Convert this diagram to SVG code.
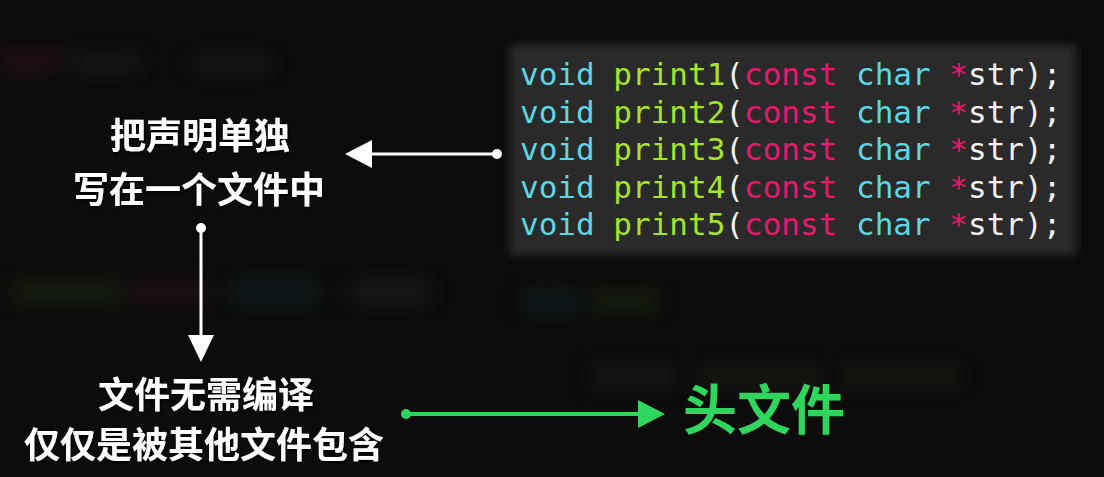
<svg xmlns="http://www.w3.org/2000/svg" width="1104" height="477" viewBox="0 0 1104 477">
  <defs>
    <style>
      .code { font-family: "DejaVu Sans Mono", "Liberation Mono", monospace; font-size: 31px; }
      .kw { fill: #5ed6e3; }
      .fn { fill: #a8e22c; }
      .ct { fill: #e6196c; }
      .pl { fill: #f2f2f2; }
      .cn { font-family: "Noto Sans CJK SC", sans-serif; font-weight: 700; font-size: 36px; fill: #ffffff; text-anchor: middle; }
      .hdr { font-family: "Noto Sans CJK SC", sans-serif; font-weight: 700; font-size: 54px; fill: #2ed65e; }
      .wl { stroke: #ffffff; stroke-width: 3; fill: none; }
      .gl { stroke: #2ed65e; stroke-width: 4; fill: none; }
    </style>
    <filter id="blur" x="-20%" y="-20%" width="140%" height="140%">
      <feGaussianBlur stdDeviation="10"/>
    </filter>
    <filter id="soft" x="-10%" y="-10%" width="120%" height="120%">
      <feGaussianBlur stdDeviation="4"/>
    </filter>
    <filter id="shadow" x="-10%" y="-20%" width="120%" height="140%">
      <feDropShadow dx="1" dy="2" stdDeviation="1" flood-color="#000" flood-opacity="0.8"/>
    </filter>
  </defs>

  <rect width="1104" height="477" fill="#0c0c0c"/>
  <g id="background-blur" filter="url(#blur)" opacity="0.35">
    <rect x="0" y="50" width="60" height="22" fill="#4a1422"/>
    <rect x="70" y="52" width="70" height="20" fill="#2a2a2a"/>
    <rect x="190" y="55" width="80" height="18" fill="#2a2a2a"/>
    <rect x="10" y="280" width="110" height="24" fill="#283a10"/>
    <rect x="130" y="280" width="80" height="24" fill="#3a1420"/>
    <rect x="230" y="280" width="90" height="24" fill="#123038"/>
    <rect x="350" y="280" width="80" height="24" fill="#2a2a2a"/>
    <rect x="520" y="290" width="60" height="22" fill="#123038"/>
    <rect x="590" y="290" width="70" height="22" fill="#283a10"/>
    <rect x="590" y="365" width="90" height="22" fill="#252525"/>
    <rect x="700" y="365" width="120" height="22" fill="#2a2a1a"/>
    <rect x="840" y="365" width="120" height="22" fill="#2a2a1a"/>
  </g>

  <g id="code-block">
    <rect x="510" y="45" width="566" height="210" fill="#2b2b2b" filter="url(#soft)"/>
    <text class="code" xml:space="preserve" x="520" y="85"><tspan class="kw">void</tspan> <tspan class="fn">print1</tspan><tspan class="pl">(</tspan><tspan class="ct">const</tspan> <tspan class="kw">char</tspan> <tspan class="ct">*</tspan><tspan class="pl">str);</tspan></text>
    <text class="code" xml:space="preserve" x="520" y="122.5"><tspan class="kw">void</tspan> <tspan class="fn">print2</tspan><tspan class="pl">(</tspan><tspan class="ct">const</tspan> <tspan class="kw">char</tspan> <tspan class="ct">*</tspan><tspan class="pl">str);</tspan></text>
    <text class="code" xml:space="preserve" x="520" y="160"><tspan class="kw">void</tspan> <tspan class="fn">print3</tspan><tspan class="pl">(</tspan><tspan class="ct">const</tspan> <tspan class="kw">char</tspan> <tspan class="ct">*</tspan><tspan class="pl">str);</tspan></text>
    <text class="code" xml:space="preserve" x="520" y="197.5"><tspan class="kw">void</tspan> <tspan class="fn">print4</tspan><tspan class="pl">(</tspan><tspan class="ct">const</tspan> <tspan class="kw">char</tspan> <tspan class="ct">*</tspan><tspan class="pl">str);</tspan></text>
    <text class="code" xml:space="preserve" x="520" y="235"><tspan class="kw">void</tspan> <tspan class="fn">print5</tspan><tspan class="pl">(</tspan><tspan class="ct">const</tspan> <tspan class="kw">char</tspan> <tspan class="ct">*</tspan><tspan class="pl">str);</tspan></text>
  </g>

  <g id="decl-text" filter="url(#shadow)">
    <text class="cn" x="200" y="149">把声明单独</text>
    <text class="cn" x="199" y="203">写在一个文件中</text>
  </g>

  <g id="nocompile-text" filter="url(#shadow)">
    <text class="cn" x="206" y="408">文件无需编译</text>
    <text class="cn" x="204" y="458">仅仅是被其他文件包含</text>
  </g>

  <g id="header-label">
    <text class="hdr" x="683" y="430">头文件</text>
  </g>

  <g id="connectors">
    <line class="wl" x1="497" y1="154" x2="368" y2="154"/>
    <circle cx="497" cy="154" r="5" fill="#ffffff"/>
    <polygon points="345,154 372,140 372,168" fill="#ffffff"/>

    <line class="wl" x1="201" y1="228" x2="201" y2="338"/>
    <circle cx="201" cy="228" r="5" fill="#ffffff"/>
    <polygon points="201,362 188,335 214,335" fill="#ffffff"/>

    <line class="gl" x1="406" y1="414" x2="640" y2="414"/>
    <circle cx="406" cy="414" r="5" fill="#2ed65e"/>
    <polygon points="665,414 638,400 638,428" fill="#2ed65e"/>
  </g>
</svg>
